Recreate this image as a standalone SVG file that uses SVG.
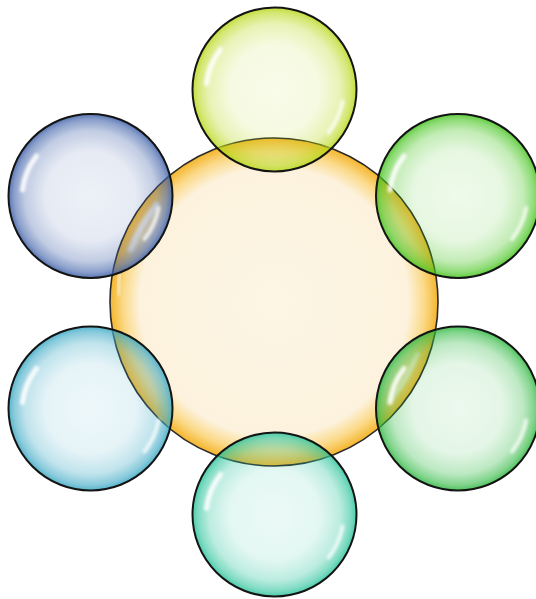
<svg xmlns="http://www.w3.org/2000/svg" width="536" height="599" viewBox="0 0 536 599">
<style>
.sm{stroke:#141414;stroke-width:2}
.big{stroke:#2a2a2a;stroke-width:1.6}
.hl{fill:none;stroke:#ffffff;stroke-linecap:round;filter:url(#blur)}
.s0{stop-opacity:0.09}
.s1{stop-opacity:0.13}
.s2{stop-opacity:0.32}
.s3{stop-opacity:0.6}
.s4{stop-opacity:0.85}
</style>
<defs>
<filter id="blur" x="-50%" y="-50%" width="200%" height="200%"><feGaussianBlur stdDeviation="1.8"/></filter>
<radialGradient id="gC"><stop offset="0" stop-color="#fdf6e6"/><stop offset="0.82" stop-color="#fcf2dd"/><stop offset="0.92" stop-color="#fbd987"/><stop offset="1" stop-color="#f4b52c"/></radialGradient>
<radialGradient id="gT"><stop offset="0" class="s0" stop-color="#b8d818"/><stop offset="0.55" class="s1" stop-color="#b8d818"/><stop offset="0.8" class="s2" stop-color="#b8d818"/><stop offset="0.93" class="s3" stop-color="#b8d818"/><stop offset="1" class="s4" stop-color="#b8d818"/></radialGradient>
<radialGradient id="gUL"><stop offset="0" class="s0" stop-color="#3d5fa8"/><stop offset="0.55" class="s1" stop-color="#3d5fa8"/><stop offset="0.8" class="s2" stop-color="#3d5fa8"/><stop offset="0.93" class="s3" stop-color="#3d5fa8"/><stop offset="1" class="s4" stop-color="#3d5fa8"/></radialGradient>
<radialGradient id="gUR"><stop offset="0" class="s0" stop-color="#44c41c"/><stop offset="0.55" class="s1" stop-color="#44c41c"/><stop offset="0.8" class="s2" stop-color="#44c41c"/><stop offset="0.93" class="s3" stop-color="#44c41c"/><stop offset="1" class="s4" stop-color="#44c41c"/></radialGradient>
<radialGradient id="gLR"><stop offset="0" class="s0" stop-color="#2eb840"/><stop offset="0.55" class="s1" stop-color="#2eb840"/><stop offset="0.8" class="s2" stop-color="#2eb840"/><stop offset="0.93" class="s3" stop-color="#2eb840"/><stop offset="1" class="s4" stop-color="#2eb840"/></radialGradient>
<radialGradient id="gB"><stop offset="0" class="s0" stop-color="#2cc49c"/><stop offset="0.55" class="s1" stop-color="#2cc49c"/><stop offset="0.8" class="s2" stop-color="#2cc49c"/><stop offset="0.93" class="s3" stop-color="#2cc49c"/><stop offset="1" class="s4" stop-color="#2cc49c"/></radialGradient>
<radialGradient id="gLL"><stop offset="0" class="s0" stop-color="#3aa8c4"/><stop offset="0.55" class="s1" stop-color="#3aa8c4"/><stop offset="0.8" class="s2" stop-color="#3aa8c4"/><stop offset="0.93" class="s3" stop-color="#3aa8c4"/><stop offset="1" class="s4" stop-color="#3aa8c4"/></radialGradient>
<g id="hlS">
<path class="hl" stroke-width="5" opacity="0.9" d="M -68 -6 A 68 68 0 0 1 -54 -40"/>
<path class="hl" stroke-width="4" opacity="0.8" d="M 68 12 A 69 69 0 0 1 54 43"/>
</g>
<g id="hlB">
<path class="hl" stroke-width="6" opacity="0.8" d="M -143 -52 A 152 152 0 0 1 -117 -97"/>
<path class="hl" stroke-width="5" opacity="0.6" d="M 143 52 A 152 152 0 0 1 117 97"/>
<path class="hl" stroke-width="4" opacity="0.5" d="M -156 -8 A 156 156 0 0 1 -154 -30"/>
</g>
</defs>
<g id="center">
<circle cx="274" cy="302" r="164" fill="url(#gC)" class="big"/>
<use href="#hlB" x="274" y="302"/>
</g>
<g id="node-top">
<circle cx="274.5" cy="89.5" r="82" fill="url(#gT)" class="sm"/>
<use href="#hlS" x="274.5" y="89.5"/>
</g>
<g id="node-upper-left">
<circle cx="90.5" cy="196" r="82" fill="url(#gUL)" class="sm"/>
<use href="#hlS" x="90.5" y="196"/>
</g>
<g id="node-upper-right">
<circle cx="458" cy="196" r="82" fill="url(#gUR)" class="sm"/>
<use href="#hlS" x="458" y="196"/>
</g>
<g id="node-lower-right">
<circle cx="458" cy="408.5" r="82" fill="url(#gLR)" class="sm"/>
<use href="#hlS" x="458" y="408.5"/>
</g>
<g id="node-bottom">
<circle cx="274.5" cy="514.5" r="82" fill="url(#gB)" class="sm"/>
<use href="#hlS" x="274.5" y="514.5"/>
</g>
<g id="node-lower-left">
<circle cx="90.5" cy="408.5" r="82" fill="url(#gLL)" class="sm"/>
<use href="#hlS" x="90.5" y="408.5"/>
</g>
<g id="connectors"></g>
</svg>
